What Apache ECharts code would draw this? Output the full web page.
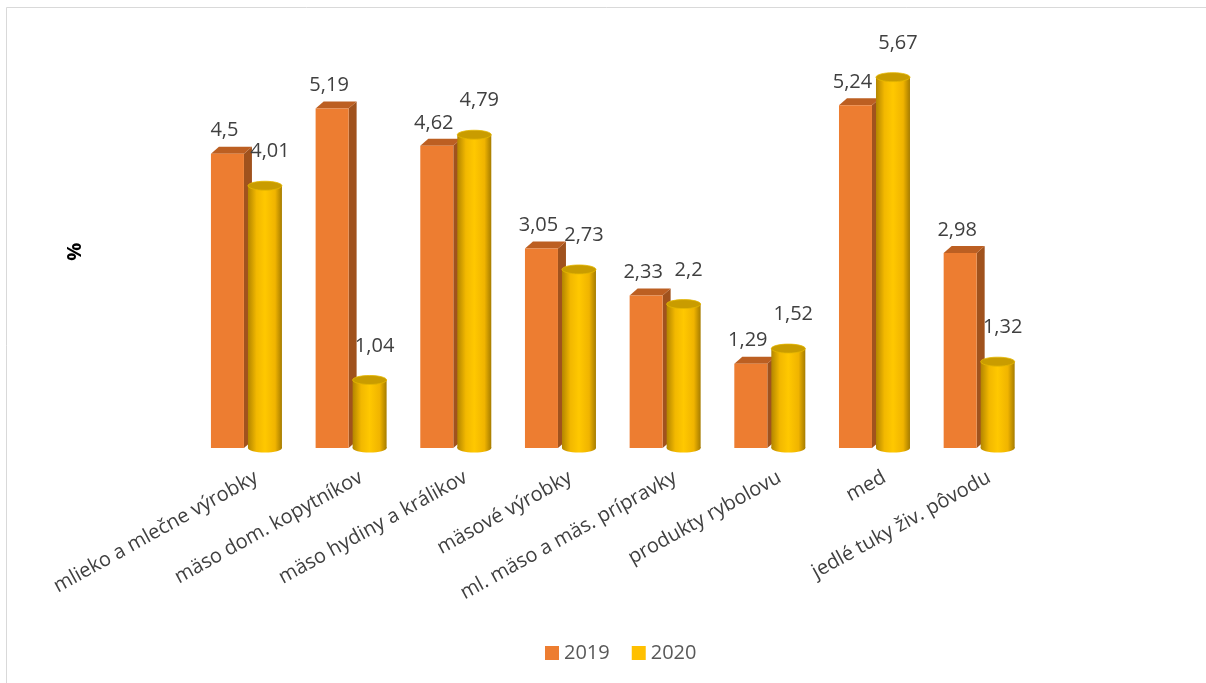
<!DOCTYPE html>
<html>
<head>
<meta charset="utf-8">
<script src="https://cdn.jsdelivr.net/npm/echarts@6/dist/echarts.min.js"></script>
<style>
  html, body { margin: 0; padding: 0; background: #fff; }
  #chart { width: 1206px; height: 683px; }
</style>
</head>
<body>
<div id="chart"></div>
<script>
var categories = [
  'mlieko a mlečne výrobky',
  'mäso dom. kopytníkov',
  'mäso hydiny a králikov',
  'mäsové výrobky',
  'ml. mäso a mäs. prípravky',
  'produkty rybolovu',
  'med',
  'jedlé tuky živ. pôvodu'
]
var values2019 = [4.5, 5.19, 4.62, 3.05, 2.33, 1.29, 5.24, 2.98]
var values2020 = [4.01, 1.04, 4.79, 2.73, 2.2, 1.52, 5.67, 1.32]

var chart = echarts.init(document.getElementById('chart'))

function fmt (v) {
  return String(v).replace('.', ',')
}

// orange box with a shaded side and top
function renderBox (params, api) {
  var idx = api.value(0)
  var top = api.coord([idx, api.value(1)])
  var base = api.coord([idx, 0])
  var x0 = base[0] - 35
  var w = 33
  var d = 8
  var dy = 7
  return {
    type: 'group',
    children: [
      { type: 'polygon', shape: { points: [[x0 + w, top[1]], [x0 + w + d, top[1] - dy], [x0 + w + d, base[1] - dy], [x0 + w, base[1]]] }, style: { fill: '#A0521D' } },
      { type: 'polygon', shape: { points: [[x0, top[1]], [x0 + d, top[1] - dy], [x0 + w + d, top[1] - dy], [x0 + w, top[1]]] }, style: { fill: '#BC5F22' } },
      { type: 'rect', shape: { x: x0, y: top[1], width: w, height: base[1] - top[1] }, style: { fill: '#ED7D31' } },
      { type: 'text', style: { text: fmt(api.value(1)), x: x0 + w / 2 - 3, y: top[1] - 13, align: 'center', verticalAlign: 'bottom', fontSize: 20, fontFamily: 'Open Sans', fill: '#404040' } }
    ]
  }
}

// yellow cylinder
function renderCyl (params, api) {
  var idx = api.value(0)
  var top = api.coord([idx, api.value(1)])
  var base = api.coord([idx, 0])
  var x0 = base[0] + 2
  var w = 34
  var rx = w / 2
  var ry = 4.5
  var cx = x0 + rx
  var grad = new echarts.graphic.LinearGradient(0, 0, 1, 0, [
    { offset: 0, color: '#B38500' },
    { offset: 0.25, color: '#F2B800' },
    { offset: 0.5, color: '#FFC800' },
    { offset: 0.8, color: '#F0B400' },
    { offset: 1, color: '#A67C00' }
  ])
  return {
    type: 'group',
    children: [
      { type: 'ellipse', shape: { cx: cx, cy: base[1], rx: rx, ry: ry }, style: { fill: grad } },
      { type: 'rect', shape: { x: x0, y: top[1], width: w, height: base[1] - top[1] }, style: { fill: grad } },
      { type: 'ellipse', shape: { cx: cx, cy: top[1], rx: rx, ry: ry }, style: { fill: '#C99C00', stroke: '#E6B800', lineWidth: 0.8 } },
      { type: 'text', style: { text: fmt(api.value(1)), x: cx + 5, y: top[1] - 24, align: 'center', verticalAlign: 'bottom', fontSize: 20, fontFamily: 'Open Sans', fill: '#404040' } }
    ]
  }
}

var option = {
  animation: false,
  backgroundColor: '#fff',
  graphic: [
    { type: 'rect', shape: { x: 6.5, y: 7.5, width: 1400, height: 900 }, style: { fill: 'none', stroke: '#D9D9D9', lineWidth: 1 }, z: 100 }
  ],
  legend: {
    data: ['2019', '2020'],
    top: 638,
    left: 540,
    itemWidth: 14,
    itemHeight: 14,
    itemGap: 22,
    icon: 'rect',
    textStyle: { fontSize: 20, fontFamily: 'Open Sans', color: '#595959' }
  },
  grid: { left: 193.6, right: 175, top: 55.6, bottom: 235 },
  xAxis: {
    type: 'category',
    data: categories,
    axisLine: { show: false },
    axisTick: { show: false },
    axisLabel: {
      rotate: 29,
      interval: 0,
      margin: 34,
      padding: [0, -12, 0, 0],
      fontSize: 20,
      fontFamily: 'Open Sans',
      color: '#404040'
    }
  },
  yAxis: {
    type: 'value',
    min: 0,
    max: 6,
    axisLabel: { show: false },
    axisLine: { show: false },
    axisTick: { show: false },
    splitLine: { show: false },
    name: '%',
    nameLocation: 'middle',
    nameRotate: 90,
    nameGap: 108,
    nameTextStyle: { fontSize: 20, fontWeight: 'bold', color: '#000', fontFamily: 'Open Sans' }
  },
  series: [
    {
      name: '2019',
      type: 'custom',
      itemStyle: { color: '#ED7D31' },
      renderItem: renderBox,
      data: values2019.map(function (v, i) { return [i, v] })
    },
    {
      name: '2020',
      type: 'custom',
      itemStyle: { color: '#FFC000' },
      renderItem: renderCyl,
      data: values2020.map(function (v, i) { return [i, v] })
    }
  ]
}
chart.setOption(option)
</script>
</body>
</html>
